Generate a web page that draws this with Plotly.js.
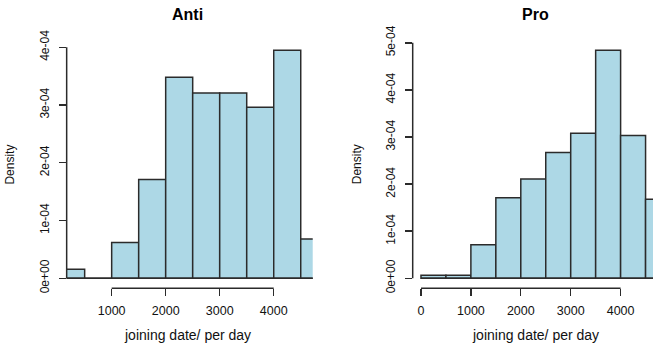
<!DOCTYPE html>
<html><head><meta charset="utf-8">
<script src="https://cdn.plot.ly/plotly-3.0.1.min.js"></script>
<style>html,body{margin:0;padding:0;background:#fff}#chart{width:653px;height:347px}</style>
</head><body><div id="chart"></div>
<script>
// ---- data ----
const binStarts = [0, 500, 1000, 1500, 2000, 2500, 3000, 3500, 4000, 4500];
const binWidth = 500;
const antiDensity = [1.56e-5, 0, 6.2e-5, 1.71e-4, 3.48e-4, 3.21e-4, 3.21e-4, 2.96e-4, 3.95e-4, 6.8e-5];
const proDensity  = [6.5e-6, 6.5e-6, 7.1e-5, 1.71e-4, 2.11e-4, 2.67e-4, 3.08e-4, 4.84e-4, 3.03e-4, 1.68e-4];
const panelTitles = ["Anti", "Pro"];
const xTitle = "joining date/ per day";
const yTitle = "Density";
const antiXTicks = [1000, 2000, 3000, 4000];
const proXTicks = [0, 1000, 2000, 3000, 4000];
const antiYTicks = [0, 1e-4, 2e-4, 3e-4, 4e-4];
const antiYLabels = ["0e+00", "1e-04", "2e-04", "3e-04", "4e-04"];
const proYTicks = [0, 1e-4, 2e-4, 3e-4, 4e-4, 5e-4];
const proYLabels = ["0e+00", "1e-04", "2e-04", "3e-04", "4e-04", "5e-04"];

const FONT = "Liberation Sans, Arial, Helvetica, sans-serif";
const INK = "#2b2b2b";
const TXT = "#111111";
const FILL = "#ADD8E6";
const LW = 1.5;

function barTrace(vals, xa, ya) {
  return {
    type: "bar", x: binStarts, y: vals, offset: 0, width: binWidth,
    xaxis: xa, yaxis: ya, hoverinfo: "skip",
    marker: {color: FILL, line: {color: INK, width: LW}}
  };
}
function baseTrace(xa, ya) {
  return {
    type: "scatter", mode: "lines", xaxis: xa, yaxis: ya, hoverinfo: "skip",
    x: [binStarts[0], binStarts[binStarts.length - 1] + binWidth], y: [0, 0],
    line: {color: INK, width: LW}
  };
}

const data = [
  barTrace(antiDensity, "x", "y"), baseTrace("x", "y"),
  barTrace(proDensity, "x2", "y2"), baseTrace("x2", "y2")
];

const ydom = [0.1692, 0.8818];
function xax(dom, range, ticks, anchor) {
  return {
    domain: dom, range: range, anchor: anchor, tickvals: ticks,
    ticktext: ticks.map(String),
    ticks: "outside", ticklen: 7, tickwidth: 1.4, tickcolor: INK,
    showline: false, showgrid: false, zeroline: false,
    ticklabelstandoff: 4,
    tickfont: {family: FONT, size: 12.5, color: TXT}
  };
}
function yax(range, ticks, labels, anchor) {
  return {
    domain: ydom, range: range, anchor: anchor, tickvals: ticks, ticktext: labels,
    tickangle: -90, ticks: "outside", ticklen: 7, tickwidth: 1.4, tickcolor: INK,
    showline: false, showgrid: false, zeroline: false,
    ticklabelstandoff: 5,
    tickfont: {family: FONT, size: 12, color: TXT}
  };
}

const layout = {
  width: 653, height: 347,
  margin: {l: 0, r: 0, t: 0, b: 0},
  paper_bgcolor: "#ffffff", plot_bgcolor: "#ffffff",
  showlegend: false, bargap: 0,
  xaxis: xax([0.1021, 0.4789], [167, 4722], antiXTicks, "y"),
  yaxis: yax([-1.732e-5, 4.109e-4], antiYTicks, antiYLabels, "x"),
  xaxis2: xax([0.632, 1.0], [-166, 4649], proXTicks, "y2"),
  yaxis2: yax([-2.123e-5, 5.038e-4], proYTicks, proYLabels, "x2"),
  shapes: [
    {type: "line", xref: "x domain", x0: 0, x1: 0, yref: "y", y0: antiYTicks[0], y1: antiYTicks[antiYTicks.length - 1], line: {color: INK, width: LW}},
    {type: "line", xref: "x", x0: antiXTicks[0], x1: antiXTicks[antiXTicks.length - 1], yref: "y domain", y0: 0, y1: 0, line: {color: INK, width: LW}},
    {type: "line", xref: "x2 domain", x0: 0, x1: 0, yref: "y2", y0: proYTicks[0], y1: proYTicks[proYTicks.length - 1], line: {color: INK, width: LW}},
    {type: "line", xref: "x2", x0: proXTicks[0], x1: proXTicks[proXTicks.length - 1], yref: "y2 domain", y0: 0, y1: 0, line: {color: INK, width: LW}}
  ],
  annotations: [
    {text: "<b>" + panelTitles[0] + "</b>", xref: "paper", yref: "paper", x: 0.2879, y: 0.9568, xanchor: "center", yanchor: "middle", showarrow: false, font: {family: FONT, size: 16, color: "#000"}},
    {text: "<b>" + panelTitles[1] + "</b>", xref: "paper", yref: "paper", x: 0.8193, y: 0.9568, xanchor: "center", yanchor: "middle", showarrow: false, font: {family: FONT, size: 16, color: "#000"}},
    {text: xTitle, xref: "paper", yref: "paper", x: 0.2879, y: 0.0346, xanchor: "center", yanchor: "middle", showarrow: false, font: {family: FONT, size: 14, color: TXT}},
    {text: xTitle, xref: "paper", yref: "paper", x: 0.8193, y: 0.0346, xanchor: "center", yanchor: "middle", showarrow: false, font: {family: FONT, size: 14, color: TXT}},
    {text: yTitle, xref: "paper", yref: "paper", x: 0.0153, y: 0.5256, xanchor: "center", yanchor: "middle", textangle: -90, showarrow: false, font: {family: FONT, size: 12, color: TXT}},
    {text: yTitle, xref: "paper", yref: "paper", x: 0.5462, y: 0.5256, xanchor: "center", yanchor: "middle", textangle: -90, showarrow: false, font: {family: FONT, size: 12, color: TXT}}
  ]
};

Plotly.newPlot("chart", data, layout, {staticPlot: true, displayModeBar: false});
</script>
</body></html>
